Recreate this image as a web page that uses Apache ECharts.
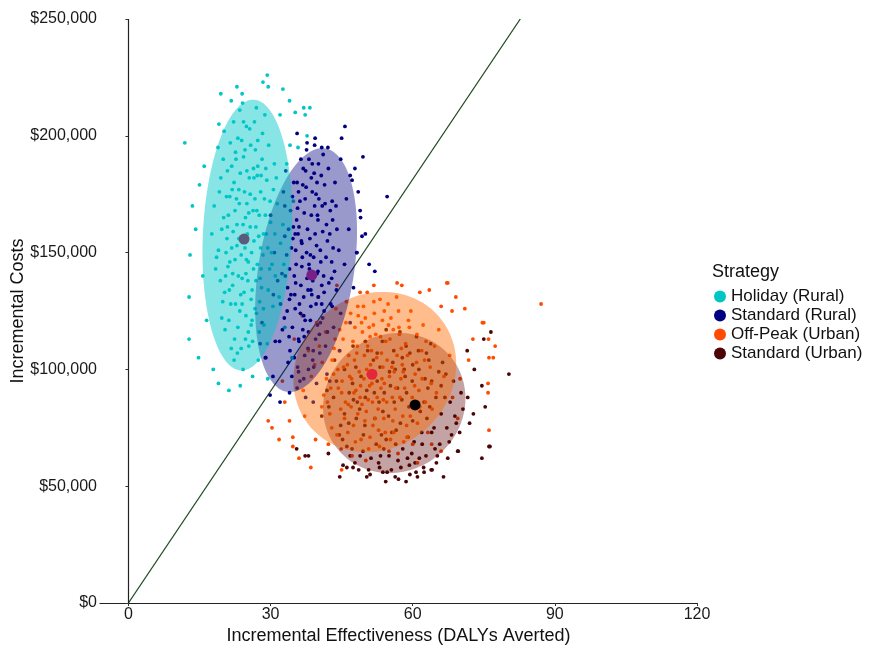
<!DOCTYPE html>
<html>
<head>
<meta charset="utf-8">
<script src="https://cdn.jsdelivr.net/npm/echarts@6/dist/echarts.min.js"></script>
<style>html,body{margin:0;padding:0;background:#fff;}#c{width:870px;height:649px;}</style>
</head>
<body>
<div id="c"></div>
<script>
// ---- DATA (x: DALYs averted, y: incremental cost in $ thousands) ----
const strategies = ['Holiday (Rural)', 'Standard (Rural)', 'Off-Peak (Urban)', 'Standard (Urban)'];
const xTicks = [0, 30, 60, 90, 120];
const yTicks = [0, 50000, 100000, 150000, 200000, 250000];

const holidayRural = [
[25.1,158],[23.4,171],[27.2,145],[21.8,152],[28.9,166],[24.0,139],[26.5,182],[19.7,160],[30.2,150],[22.6,128],
[25.8,196],[27.9,176],[20.9,185],[23.1,118],[29.5,134],[24.7,165],[26.1,121],[18.4,143],[31.4,171],[22.2,206],
[28.3,201],[25.4,110],[21.3,134],[27.5,157],[23.8,149],[30.8,188],[19.2,176],[26.9,138],[24.3,191],[22.9,162],
[32.1,154],[20.4,117],[25.9,130],[28.6,119],[17.6,158],[23.6,184],[27.0,212],[21.5,197],[29.8,143],[24.9,147],
[26.3,168],[22.0,141],[19.9,129],[30.5,127],[25.6,203],[23.0,107],[28.0,183],[18.9,195],[27.7,129],[24.5,176],
[21.1,166],[26.8,194],[29.1,158],[22.4,113],[31.0,140],[20.6,150],[25.2,138],[23.3,156],[27.4,104],[24.1,214],
[19.4,138],[28.7,173],[22.7,190],[26.0,150],[21.9,177],[30.0,163],[24.8,123],[27.1,168],[20.2,202],[25.5,182],
[23.7,132],[29.3,111],[22.5,147],[26.6,206],[18.1,170],[31.8,131],[24.2,100],[27.8,139],[21.2,121],[25.7,161],
[20.0,190],[28.4,149],[23.9,198],[26.2,112],[22.8,173],[30.6,177],[19.0,151],[25.0,171],[27.3,187],[24.6,152],
[21.7,109],[29.6,196],[23.2,140],[26.7,126],[20.7,174],[28.1,135],[22.1,159],[24.4,133],[32.6,162],[25.3,146],
[26.4,186],[22.3,180],[29.0,186],[24.9,204],[20.5,140],[27.6,116],[23.5,125],[31.2,182],[21.4,146],[28.5,158],
[24.2,162],[26.7,173],[22.5,168],[28.2,190],[20.8,156],[25.0,185],[23.8,109],[27.9,152],[21.6,128],[26.4,143],
[19.5,182],[29.9,172],[24.6,194],[22.0,136],[27.0,124],[25.3,116],[20.1,165],[28.8,209],[23.1,199],[26.9,161],
[21.0,144],[30.3,145],[24.0,128],[27.3,198],[22.9,153],[25.7,175],[19.7,122],[28.5,126],[23.5,211],[26.1,134],
[21.8,187],[29.2,181],[24.8,141],[22.3,104],[27.6,166],[20.3,133],[25.4,167],[30.9,158],[23.3,177],[26.5,155],
[18.6,148],[28.0,143],[24.3,206],[21.4,174],[27.2,183],[25.9,119],[22.6,193],[29.4,152],[24.7,113],[20.9,161],
[11.9,197],[13.0,149],[12.8,131],[12.8,113],[17.9,100],[21.2,91],[26.2,97],[29.4,96],[15.0,179],[14.2,160],
[16.5,121],[14.8,105],[15.7,140],[33.0,118],[34.5,105],[19.0,94],[23.6,93],[16.0,187],[13.5,170],[32.8,145],
[29.3,226],[28.4,223],[29.5,221],[22.9,221],[19.5,218],[24.0,218],[21.7,215],[32.6,220],[34.0,215],[37.0,212],
[38.3,212],[19.1,205],[32.0,209],[37.3,209],[35.2,210],[37.7,200],[35.8,195],[34.1,196],[33.4,188],[34.8,172]
];

const standardRural = [
[38.2,143],[36.5,155],[40.1,131],[35.0,140],[41.8,162],[37.3,121],[39.6,175],[33.4,149],[42.9,146],[36.0,112],
[38.8,188],[40.9,170],[34.2,168],[35.7,101],[41.3,125],[37.8,160],[39.0,108],[32.1,128],[43.6,180],[36.9,186],
[41.1,192],[37.0,96],[34.6,118],[40.5,151],[36.4,136],[43.1,164],[33.0,157],[39.9,119],[37.5,178],[35.4,145],
[44.4,151],[33.7,103],[38.5,127],[41.6,110],[31.5,138],[36.2,172],[39.3,196],[34.9,180],[42.3,137],[37.9,134],
[39.4,158],[35.2,126],[33.9,114],[43.3,118],[38.1,190],[35.6,92],[40.7,183],[32.7,176],[40.3,115],[37.1,167],
[34.4,152],[39.8,180],[42.0,155],[35.9,99],[43.9,134],[33.6,135],[38.0,116],[36.7,148],[39.7,94],[37.6,194],
[32.9,122],[41.5,171],[35.5,164],[38.9,138],[34.8,161],[42.6,168],[37.2,106],[40.0,164],[33.2,185],[38.6,166],
[36.3,124],[41.9,98],[35.1,132],[39.2,184],[30.8,150],[44.8,124],[37.4,88],[40.8,128],[34.1,108],[38.4,149],
[33.0,170],[41.2,140],[36.8,179],[39.1,101],[35.8,158],[43.0,172],[32.4,141],[38.3,156],[40.2,173],[37.7,139],
[34.5,97],[42.2,186],[36.1,128],[39.5,113],[33.8,160],[41.0,122],[35.3,151],[37.0,123],[45.6,145],[38.7,132],
[36.6,144],[40.6,146],[34.0,130],[42.7,128],[31.9,112],[44.0,160],[39.8,141],[35.9,176],[38.9,104],[43.5,142],
[37.6,150],[39.9,166],[35.3,137],[41.4,179],[36.8,117],[38.6,182],[34.0,143],[42.5,158],[37.0,131],[40.4,107],
[35.7,169],[39.1,148],[33.5,125],[43.8,170],[36.4,190],[40.8,136],[38.0,100],[34.7,156],[42.0,116],[37.3,173],
[39.6,128],[35.9,113],[41.7,148],[33.1,140],[38.4,121],[36.0,161],[40.1,188],[34.3,132],[43.2,152],[37.9,109],
[39.3,170],[35.0,105],[41.0,159],[36.6,154],[38.8,176],[32.5,117],[42.9,139],[37.4,185],[40.5,120],[35.6,180],
[38.1,145],[36.2,95],[41.3,133],[34.6,174],[39.7,153],[37.1,114],[43.0,127],[35.2,158],[40.0,142],[38.5,134],
[45.7,204],[45.0,199],[49.5,191],[54.6,174],[52.0,142],[50.8,145],[32.0,86],[29.9,89],[47.8,186],[46.5,160],
[47.5,135],[48.2,150],[44.6,108],[42.5,95],[30.5,97],[29.0,105],[28.2,120],[30.0,166],[31.0,112],[46.8,120],
[49.0,165],[34.0,90],[39.0,86],[27.8,111],[28.9,105],[35.6,201],[39.4,199],[37.7,197],[40.8,195],[42.1,195],
[46.8,183],[47.2,181],[48.5,176],[48.9,168],[49.3,157],[50.0,158],[48.2,150],[44.8,190],[46.0,173],[30.6,132]
];

const offPeakUrban = [
[52.0,99],[48.3,110],[55.7,88],[45.1,95],[58.9,106],[50.2,82],[53.6,121],[43.0,104],[60.4,93],[47.5,76],
[54.8,128],[57.2,115],[44.6,117],[49.1,70],[61.5,84],[51.3,108],[56.0,73],[41.2,89],[62.8,112],[46.9,124],
[59.6,125],[50.7,66],[42.5,81],[55.1,97],[48.0,91],[63.7,101],[40.3,110],[53.9,79],[51.7,119],[46.2,102],
[65.0,90],[44.0,72],[52.5,88],[58.1,69],[38.6,97],[49.6,127],[56.6,131],[43.8,126],[61.0,77],[50.9,93],
[54.3,112],[45.8,86],[42.9,75],[63.2,73],[53.1,130],[47.2,63],[59.3,118],[39.7,120],[57.9,80],[51.0,114],
[46.5,106],[55.4,122],[60.8,103],[44.9,66],[64.1,83],[41.8,96],[52.8,74],[48.7,99],[56.9,64],[50.4,133],
[40.8,84],[58.5,111],[47.8,118],[53.3,92],[45.3,113],[62.2,119],[49.9,78],[54.6,104],[38.0,108],[51.9,124],
[49.3,85],[60.0,68],[44.3,92],[55.9,117],[36.9,91],[66.6,97],[50.1,61],[57.5,96],[42.2,68],[53.7,101],
[46.0,129],[59.9,88],[48.5,123],[55.3,70],[43.4,109],[62.0,96],[39.3,102],[52.2,115],[57.0,125],[51.5,86],
[45.6,79],[61.9,108],[47.7,104],[53.0,67],[41.6,116],[56.3,83],[49.7,96],[64.6,110],[44.2,100],[58.7,76],
[51.1,102],[48.9,88],[54.0,94],[46.7,97],[56.7,106],[50.5,110],[52.7,83],[49.4,116],[55.6,101],[47.0,84],
[53.4,107],[45.0,90],[58.3,92],[51.6,76],[50.0,122],[43.3,98],[60.9,115],[47.4,112],[54.5,86],[57.8,102],
[52.4,105],[49.0,93],[55.2,113],[46.4,85],[58.0,99],[51.0,71],[54.0,125],[44.5,108],[60.2,86],[48.4,81],
[53.5,96],[57.3,88],[45.9,120],[50.3,100],[62.5,104],[47.9,69],[55.8,78],[42.7,92],[59.1,121],[51.8,129],
[56.4,92],[49.8,106],[44.8,83],[61.3,91],[53.2,114],[47.1,96],[58.8,71],[40.9,103],[54.9,119],[50.6,87],
[63.9,94],[46.3,73],[52.1,79],[57.6,109],[43.6,113],[49.2,120],[55.0,65],[60.5,98],[48.2,107],[53.8,87],
[45.4,101],[59.5,80],[51.4,94],[56.1,99],[47.6,90],[62.7,86],[50.8,118],[54.2,73],[42.0,86],[57.1,118],
[87.1,128],[67.2,137],[69.1,131],[71.0,126],[74.7,120],[77.4,110],[76.1,105],[75.9,94],[75.9,90],[76.1,74],
[72.7,113],[29.5,78],[30.3,75],[34.7,71],[34.7,67],[34.0,78],[33.0,86],[31.8,70],[36.0,62],[38.5,58],
[45.0,57],[61.0,60],[66.0,65],[69.5,79],[70.0,96],[71.8,104],[68.4,88],[36.7,123],[40.0,131],[44.0,136],
[48.9,133],[56.7,137],[57.7,136],[67.4,137],[61.5,133],[51.8,136],[48.4,127],[68.3,125],[75.0,120],[76.0,113],
[77.0,105],[63.5,134],[66.0,127],[32.5,95],[35.0,113],[65.5,117],[67.8,106],[37.2,80],[39.5,70],[64.0,68]
];

const standardUrban = [
[56.1,86],[52.5,95],[60.0,78],[48.8,83],[63.2,92],[54.4,70],[57.8,105],[46.6,90],[64.5,75],[51.2,62],
[58.6,110],[61.3,100],[48.0,101],[53.0,58],[65.7,68],[55.3,93],[59.8,64],[44.8,76],[67.0,98],[50.5,108],
[63.8,111],[54.6,56],[46.1,67],[59.2,84],[52.0,79],[67.9,86],[43.9,95],[57.9,66],[55.8,103],[50.0,88],
[69.2,77],[47.8,60],[56.5,74],[62.3,58],[42.3,84],[53.6,112],[60.8,114],[47.4,110],[65.2,63],[54.9,80],
[58.4,97],[49.6,72],[46.8,63],[67.4,62],[57.3,116],[51.0,55],[63.4,104],[43.5,104],[62.0,68],[55.1,99],
[50.3,91],[59.4,107],[64.9,88],[48.6,57],[68.2,72],[45.6,81],[56.9,61],[52.9,86],[61.0,54],[54.4,117],
[44.5,72],[62.6,96],[51.7,104],[57.4,77],[49.1,97],[66.3,103],[53.9,66],[58.7,90],[41.9,91],[56.0,108],
[53.4,72],[64.1,57],[48.1,79],[60.0,102],[40.8,80],[70.6,83],[54.3,52],[61.6,82],[46.1,58],[57.7,87],
[50.0,112],[64.0,73],[52.5,107],[59.3,59],[47.3,94],[66.0,81],[43.3,88],[56.3,100],[61.2,108],[55.6,73],
[49.5,65],[66.0,93],[51.9,90],[57.0,53],[45.6,100],[60.3,69],[53.7,82],[68.6,95],[48.3,86],[62.8,63],
[56.8,92],[53.1,101],[59.0,71],[49.9,76],[62.4,86],[55.0,63],[58.2,100],[47.5,87],[64.0,95],[52.3,68],
[60.5,60],[66.8,88],[51.0,98],[45.2,70],[63.0,79],[57.5,58],[68.9,80],[54.0,90],[61.9,73],[48.9,63],
[65.5,99],[59.9,95],[46.5,77],[67.7,69],[56.4,68],[62.9,107],[52.8,60],[70.2,90],[58.9,62],[64.7,66],
[55.5,57],[50.7,57],[61.4,62],[67.2,75],[65.0,60],[47.2,66],[69.9,73],[63.6,84],[60.7,56],[53.2,63],
[80.3,98],[76.5,116],[75.0,113],[74.6,93],[75.3,84],[76.3,67],[74.6,62],[69.6,65],[44.6,54],[50.3,54],
[58.6,52],[56.3,54],[62.4,56],[63.9,57],[59.4,55],[53.7,56],[37.3,63],[38.0,63],[42.2,64],[45.3,59],
[47.4,58],[72.0,77],[72.8,81],[71.6,88],[73.0,100],[71.5,108],[66.5,54],[35.5,66],[76.1,67],[69.5,65]
];

// summary: mean point of each strategy (x, cost $ thousands)
const meanEffect = [24.4, 38.7, 51.4, 60.5];
const meanCostK = [155.8, 140.4, 97.9, 84.8];

// 95% confidence ellipses: centre, half-width (DALYs), half-height ($k), top shear (DALYs)
const ellCx = [25.1, 37.5, 52.0, 56.1];
const ellCyK = [157.5, 142.5, 98.9, 85.6];
const ellHalfW = [9.4, 10.2, 17.1, 15.0];
const ellHalfHK = [58.0, 52.2, 34.3, 30.0];
const ellShear = [1.2, 3.4, 1.7, 1.0];

const wtpThreshold = 3023; // $ per DALY averted
const yMax = 250000;

// ---- STYLE ----
const FONT = '"Liberation Sans", Arial, Helvetica, sans-serif';
const pointColors = ['#00c6c6', '#000080', '#ff4a00', '#4a0606'];
const ellColors = ['#00c8c8', '#000080', '#ff6a00', '#5a0000'];
const ellOpacity = [0.47, 0.4, 0.45, 0.36];
const meanColors = ['#5a5a7c', '#7a1f84', '#e4283a', '#000000'];

const clouds = [holidayRural, standardRural, offPeakUrban, standardUrban];
const toDollars = arr => arr.map(p => [p[0], p[1] * 1000]);

const series = [];
series.push({
  type: 'line', silent: true, z: 1, symbol: 'none',
  data: [[0, 0], [yMax / wtpThreshold, yMax]],
  lineStyle: { color: '#1e4a22', width: 1.3 },
  markLine: { silent: true, symbol: 'none', label: { show: false },
    lineStyle: { color: '#222', type: 'solid', width: 1.2 },
    data: [{ xAxis: 0 }] }
});
for (let i = 3; i >= 0; i--) {
  series.push({
    name: strategies[i], type: 'scatter', z: 2,
    data: toDollars(clouds[i]), symbolSize: 3.8,
    itemStyle: { color: pointColors[i], opacity: 1 }
  });
}
for (let i = 3; i >= 0; i--) {
  const idx = i;
  series.push({
    type: 'custom', coordinateSystem: 'cartesian2d', silent: true, z: 3,
    data: [[ellCx[idx], ellCyK[idx] * 1000]],
    encode: { x: 0, y: 1 },
    renderItem: function (params, api) {
      const pts = [];
      const n = 90;
      for (let k = 0; k < n; k++) {
        const t = 2 * Math.PI * k / n;
        const x = ellCx[idx] + ellHalfW[idx] * Math.cos(t) + ellShear[idx] * Math.sin(t);
        const y = (ellCyK[idx] + ellHalfHK[idx] * Math.sin(t)) * 1000;
        pts.push(api.coord([x, y]));
      }
      return { type: 'polygon', shape: { points: pts },
        style: { fill: ellColors[idx], opacity: ellOpacity[idx], stroke: null } };
    }
  });
}
for (let i = 0; i < 4; i++) {
  series.push({
    type: 'scatter', silent: true, z: 5,
    data: [[meanEffect[i], meanCostK[i] * 1000]], symbolSize: 11,
    itemStyle: { color: meanColors[i], opacity: 1 }
  });
}

const chart = echarts.init(document.getElementById('c'), null, { renderer: 'canvas' });
chart.setOption({
  animation: false,
  backgroundColor: '#ffffff',
  textStyle: { fontFamily: FONT },
  grid: { left: 100, right: 173, top: 19, bottom: 46, containLabel: false, outerBoundsMode: 'none' },
  xAxis: {
    type: 'value', min: -6, max: 120,
    name: 'Incremental Effectiveness (DALYs Averted)', nameLocation: 'middle', nameGap: 24,
    nameMoveOverlap: false,
    nameTextStyle: { fontSize: 18, color: '#111', fontFamily: FONT },
    axisLine: { show: true, onZero: false, lineStyle: { color: '#222', width: 1.2 } },
    axisTick: { show: true, customValues: xTicks, length: 3, lineStyle: { color: '#333' } },
    axisLabel: { customValues: xTicks, fontSize: 16, color: '#1a1a1a', margin: 4, fontFamily: FONT },
    splitLine: { show: false }
  },
  yAxis: {
    type: 'value', min: 0, max: yMax, interval: 50000,
    name: 'Incremental Costs', nameLocation: 'middle', nameGap: 73,
    nameMoveOverlap: false,
    nameTextStyle: { fontSize: 18, color: '#111', fontFamily: FONT },
    axisLine: { show: false },
    axisTick: { show: true, length: 3, lineStyle: { color: '#333' } },
    axisLabel: { fontSize: 16, color: '#1a1a1a', margin: 3, fontFamily: FONT,
      formatter: v => '$' + v.toLocaleString('en-US') },
    splitLine: { show: false }
  },
  legend: {
    data: strategies, orient: 'vertical', left: 709, top: 283,
    itemWidth: 12, itemHeight: 12, itemGap: 2, icon: 'circle',
    textStyle: { fontSize: 17, color: '#111', lineHeight: 17, fontFamily: FONT },
    selectedMode: false
  },
  graphic: [{ type: 'text', left: 712, top: 263,
    style: { text: 'Strategy', fontSize: 18, fill: '#111', fontFamily: FONT } }],
  series: series
});
</script>
</body>
</html>
